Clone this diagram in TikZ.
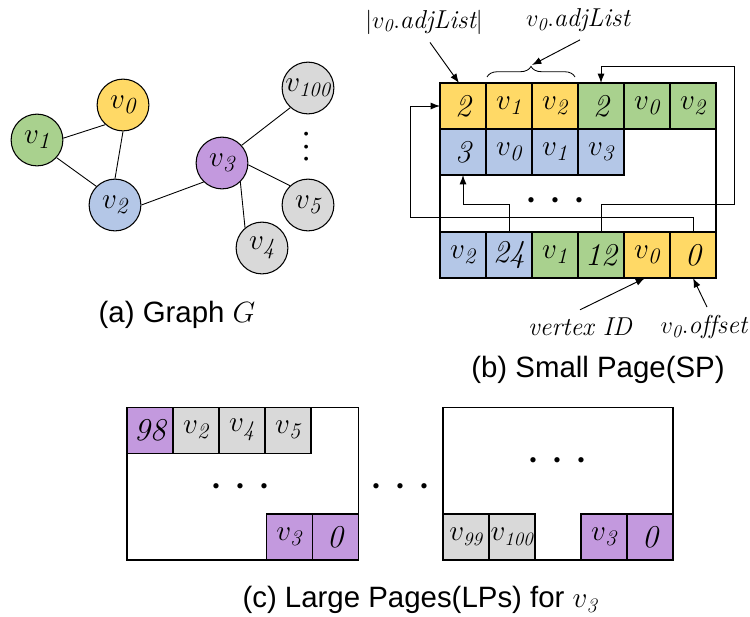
\documentclass[tikz,border=0pt]{standalone}
\usepackage{fontspec}
\newfontfamily\capfont{Liberation Sans}
\usetikzlibrary{arrows.meta,positioning,calc,decorations.pathreplacing}
\definecolor{NodeYellow}{RGB}{255,217,102}
\definecolor{NodeGreen}{RGB}{169,209,142}
\definecolor{NodeBlue}{RGB}{180,199,231}
\definecolor{NodePurple}{RGB}{195,153,222}
\definecolor{NodeGray}{RGB}{217,217,217}
\tikzset{
  vertex/.style={circle,draw,line width=0.9pt,minimum size=44pt,inner sep=0pt,
    font=\fontsize{28}{32}\selectfont},
  cell/.style={draw,line width=0.9pt,minimum width=39.1pt,minimum height=39.1pt,
    inner sep=0pt,outer sep=0pt,font=\fontsize{27}{31}\selectfont},
  page/.style={draw,line width=0.9pt,inner sep=0pt,outer sep=0pt},
  link/.style={line width=0.75pt},
  arrow/.style={-{Latex[length=8pt,width=6pt]},line width=0.8pt},
  note/.style={font=\fontsize{22}{26}\selectfont\itshape,inner sep=0pt},
  subcap/.style={font=\capfont\fontsize{25}{29}\selectfont},
  etc/.style={font=\fontsize{20}{24}\selectfont,inner sep=0pt}
}
\newcommand{\vx}[1]{$v_{\mathit{#1}}$}
\newcommand{\threedots}{\textbullet\hspace{6pt}\textbullet\hspace{6pt}\textbullet}

\begin{document}
\begin{tikzpicture}[x=0.85pt,y=-0.85pt]
  \useasboundingbox (0,0) rectangle (750,616);
  % (a) graph
  \node[vertex,fill=NodeYellow] (v0) at (123,105) {\vx{0}};
  \node[vertex,fill=NodeGreen] (v1) at (37,140) {\vx{1}};
  \node[vertex,fill=NodeBlue] (v2) at (115,205) {\vx{2}};
  \node[vertex,fill=NodePurple] (v3) at (222,163) {\vx{3}};
  \node[vertex,fill=NodeGray,font=\fontsize{25}{29}\selectfont] (v100) at (308,88) {\vx{100}};
  \node[vertex,fill=NodeGray] (v5) at (308,205) {\vx{5}};
  \node[vertex,fill=NodeGray] (v4) at (262,248) {\vx{4}};
  \node[etc,rotate=90,font=\fontsize{12}{14}\selectfont] (gdots) at (307,147)
    {\textbullet\hspace{1.5pt}\textbullet\hspace{1.5pt}\textbullet};
  \draw[link] (v1.4) -- (v0.228);
  \draw[link] (v1.-42) -- (v2.135);
  \draw[link] (v0.-90) -- (v2.90);
  \draw[link] (v2.0) -- (v3.226);
  \draw[link] (v3.42) -- (v100.228);
  \draw[link] (v3.-4) -- (v5.133);
  \draw[link] (v3.-46) -- (v4.130);
  \node[subcap] (capa) at (177,315) {(a) Graph $G$};

  % (b) small page
  \node[cell,fill=NodeYellow] (a0) at (463,106) {$\mathit{2}$};
  \node[cell,fill=NodeYellow,right=0pt of a0] (a1) {\vx{1}};
  \node[cell,fill=NodeYellow,right=0pt of a1] (a2) {\vx{2}};
  \node[cell,fill=NodeGreen,right=0pt of a2] (a3) {$\mathit{2}$};
  \node[cell,fill=NodeGreen,right=0pt of a3] (a4) {\vx{0}};
  \node[cell,fill=NodeGreen,right=0pt of a4] (a5) {\vx{2}};
  \node[cell,fill=NodeBlue,below=0pt of a0] (b0) {$\mathit{3}$};
  \node[cell,fill=NodeBlue,right=0pt of b0] (b1) {\vx{0}};
  \node[cell,fill=NodeBlue,right=0pt of b1] (b2) {\vx{1}};
  \node[cell,fill=NodeBlue,right=0pt of b2] (b3) {\vx{3}};
  \node[cell,fill=NodeBlue] (c0) at (463,255) {\vx{2}};
  \node[cell,fill=NodeBlue,right=0pt of c0] (c1) {$\mathit{24}$};
  \node[cell,fill=NodeGreen,right=0pt of c1] (c2) {\vx{1}};
  \node[cell,fill=NodeGreen,right=0pt of c2] (c3) {$\mathit{12}$};
  \node[cell,fill=NodeYellow,right=0pt of c3] (c4) {\vx{0}};
  \node[cell,fill=NodeYellow,right=0pt of c4] (c5) {$\mathit{0}$};
  \draw[line width=0.9pt] (b0.south west) -- (c0.north west);
  \draw[line width=0.9pt] (a5.south east) -- (c5.north east);
  \node[etc] (sdots) at (555,202) {\threedots};
  \draw[arrow] (c5.north) |- (410,217) |- (a0.west);
  \draw[arrow] (c1.north) -- ++(0,-28) -| (b0.south);
  \draw[arrow] (c3.north) -- ++(0,-28) -| (734,66) -| (a3.north);

  \node[note] (szlbl) at (424,22) {$|v_{\mathit{0}}.\mathit{adjList}|$};
  \node[note] (adjlbl) at (578,20) {$v_{\mathit{0}}.\mathit{adjList}$};
  \coordinate (brtip) at ($(a1.north east)+(0,-18)$);
  \draw[line width=0.7pt,decorate,decoration={brace,amplitude=9pt}]
    ($(a1.north west)+(1,-6)$) -- ($(a2.north east)+(-3,-6)$);
  \draw[arrow] ($(szlbl.south)+(6,8)$) -- ($(a0.north)+(-4,0)$);
  \draw[arrow] ($(adjlbl.south)+(2,8)$) -- (brtip);
  \node[note] (vidlbl) at (580,327) {vertex ID};
  \node[note] (offlbl) at (704,327) {$v_{\mathit{0}}.\mathit{offset}$};
  \draw[arrow] ($(vidlbl.north)+(0,-8)$) -- ($(c4.south)+(-2,0)$);
  \draw[arrow] ($(offlbl.north)+(3,-8)$) -- (c5.south);
  \node[subcap] (capb) at (598,370) {(b) Small Page(SP)};

  % (c) large pages
  \node[page,minimum width=196.4pt,minimum height=130pt] (lp1) at (242.5,483.5) {};
  \node[cell,fill=NodePurple,below right=0pt of lp1.north west] (p0) {$\mathit{98}$};
  \node[cell,fill=NodeGray,right=0pt of p0] (p1) {\vx{2}};
  \node[cell,fill=NodeGray,right=0pt of p1] (p2) {\vx{4}};
  \node[cell,fill=NodeGray,right=0pt of p2] (p3) {\vx{5}};
  \node[cell,fill=NodePurple,above left=0pt of lp1.south east] (q1) {$\mathit{0}$};
  \node[cell,fill=NodePurple,left=0pt of q1] (q0) {\vx{3}};
  \node[etc] (ldots) at (240,488) {\threedots};
  \node[etc] (mdots) at (400,488) {\threedots};
  \node[page,minimum width=195.5pt,minimum height=130pt] (lp2) at (558,483.5) {};
  \node[cell,fill=NodeGray,above right=0pt of lp2.south west,font=\fontsize{23}{27}\selectfont] (r0) {\vx{99}};
  \node[cell,fill=NodeGray,right=0pt of r0,font=\fontsize{23}{27}\selectfont] (r1) {\vx{100}};
  \node[cell,fill=NodePurple,above left=0pt of lp2.south east] (s1) {$\mathit{0}$};
  \node[cell,fill=NodePurple,left=0pt of s1] (s0) {\vx{3}};
  \node[etc] (rdots) at (557,462) {\threedots};
  \node[subcap] (capc) at (420,600) {(c) Large Pages(LPs) for \vx{3}};
\end{tikzpicture}
\end{document}
